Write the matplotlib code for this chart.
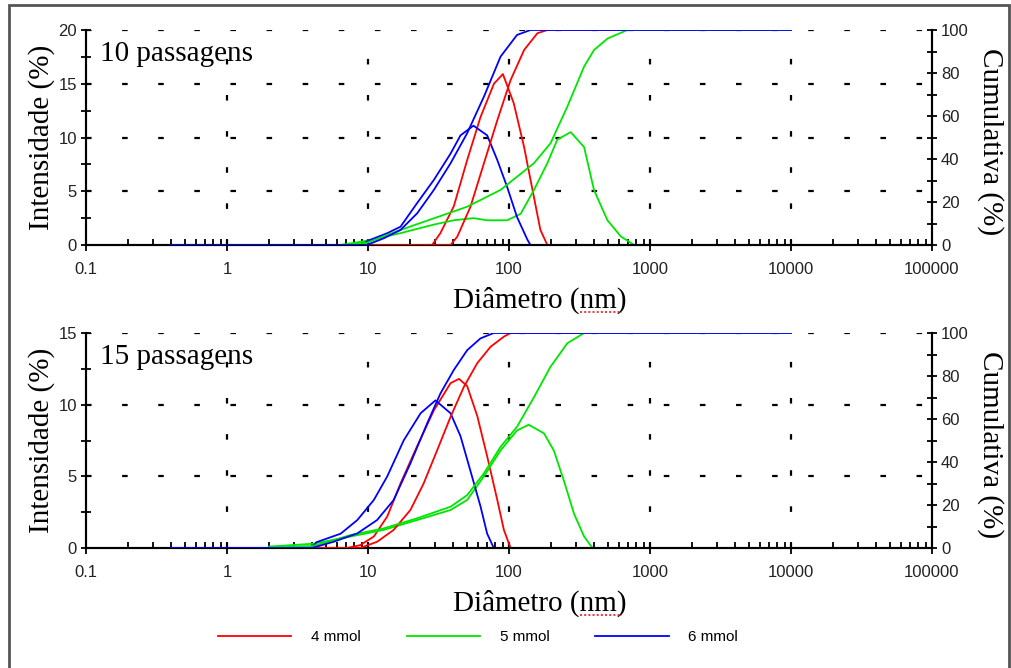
import matplotlib
matplotlib.use("Agg")
import matplotlib.pyplot as plt
from matplotlib.ticker import MultipleLocator, FixedLocator, NullFormatter
from matplotlib.lines import Line2D
from matplotlib.patches import Rectangle

plt.rcParams['lines.scale_dashes'] = False

# ---- 10 passagens ----
d10_vermelho_int = [10, 28.5, 32.6, 40.6, 50.5, 62.8, 78.2, 90.5, 108, 128, 150, 167, 187, 10000]
i10_vermelho = [0, 0, 1.1, 3.6, 7.9, 11.9, 15.0, 15.9, 13.2, 9.1, 4.5, 1.4, 0, 0]
d10_vermelho_cum = [10, 38.5, 43, 53.3, 66.4, 82.6, 102.6, 128, 159, 187, 10000]
c10_vermelho = [0, 0, 3.9, 17.8, 38, 58, 76.7, 90.7, 98.5, 100, 100]

d10_verde_int = [6.4, 9.8, 17, 29.3, 40.6, 56, 70, 97, 121, 150, 187, 220, 274, 341, 401, 499, 621, 772, 10000]
i10_verde = [0, 0.4, 1.1, 1.9, 2.3, 2.5, 2.3, 2.3, 2.9, 5.1, 7.6, 9.8, 10.5, 9.1, 5.1, 2.3, 0.8, 0, 0]
d10_verde_cum = [6.4, 9.8, 17, 29.3, 50.5, 87, 150, 197, 259, 341, 401, 499, 692, 10000]
c10_verde = [0, 1, 7, 12.4, 17.8, 25.6, 38, 47.3, 64.3, 83, 90.7, 96, 100, 100]

d10_azul_int = [0.4, 9, 10, 13.7, 17, 22.3, 29.3, 38.5, 45.3, 56, 70, 82.6, 97, 114, 135, 142, 10000]
i10_azul = [0, 0, 0.4, 1.1, 1.7, 3.9, 6.05, 8.5, 10.2, 11.1, 10.2, 7.9, 5.4, 2.6, 0.5, 0, 0]
d10_azul_cum = [0.4, 9.8, 12.9, 17, 22.3, 29.3, 38.5, 50.5, 66.4, 87.1, 114, 142, 10000]
c10_azul = [0, 0, 3.1, 7, 14.7, 25.6, 38, 52, 69, 87.6, 97.7, 100, 100]

# ---- 15 passagens ----
d15_vermelho_int = [4, 7.1, 8.8, 11, 13.7, 17, 22.3, 29.3, 38.5, 44.2, 50.5, 59.6, 70, 82.6, 92, 102.6, 10000]
i15_vermelho = [0, 0, 0.2, 0.8, 2.2, 4.5, 7.1, 9.6, 11.5, 11.8, 11.3, 9.2, 6.4, 3.35, 1.26, 0, 0]
d15_vermelho_cum = [4, 8.8, 11.6, 15.2, 20, 24.8, 31, 38.5, 47.9, 59.6, 74, 92, 102.6, 10000]
c15_vermelho = [0, 0, 2.9, 8.4, 17.7, 30, 45.6, 61, 75, 86, 93.6, 98.3, 100, 100]

d15_verde_int = [2, 4.1, 7.5, 12.9, 22.3, 38.5, 50.5, 66.4, 87, 114, 138, 177, 208, 245, 289, 341, 391, 10000]
i15_verde = [0.1, 0.3, 0.8, 1.26, 1.95, 2.65, 3.35, 5.0, 6.8, 8.2, 8.6, 8.0, 6.8, 4.7, 2.4, 0.8, 0, 0]
d15_verde_cum = [2, 4.1, 7.5, 12.9, 22.3, 38.5, 50.5, 66.4, 87, 114, 150, 197, 259, 341, 10000]
c15_verde = [0.5, 0.9, 6, 9.1, 13.8, 19.2, 24.6, 34.7, 47, 56.4, 70, 84.3, 95.2, 100, 100]

d15_azul_int = [0.4, 4, 4.3, 6.4, 8.4, 11, 13.7, 17.9, 23.6, 30.1, 38.5, 45.3, 53.2, 62.8, 70, 78, 10000]
i15_azul = [0, 0, 0.4, 1.0, 1.95, 3.35, 5.0, 7.5, 9.4, 10.3, 9.4, 7.8, 5.4, 2.9, 1.0, 0, 0]
d15_azul_cum = [0.4, 4, 5.7, 8.4, 11.6, 15.2, 20, 26.3, 32.7, 40.6, 50.5, 62.8, 78, 10000]
c15_azul = [0, 0, 2.9, 6.8, 13, 22.3, 39.4, 58, 72, 82.8, 92, 97.5, 100, 100]

series = ["4 mmol", "5 mmol", "6 mmol"]
cores = ["#ff0000", "#00e600", "#0000ff"]
x_ticks = [0.1, 1, 10, 100, 1000, 10000, 100000]
x_labels = ["0.1", "1", "10", "100", "1000", "10000", "100000"]

paineis = [
    ("10 passagens", 20,
     [(d10_vermelho_int, i10_vermelho), (d10_verde_int, i10_verde), (d10_azul_int, i10_azul)],
     [(d10_vermelho_cum, c10_vermelho), (d10_verde_cum, c10_verde), (d10_azul_cum, c10_azul)]),
    ("15 passagens", 15,
     [(d15_vermelho_int, i15_vermelho), (d15_verde_int, i15_verde), (d15_azul_int, i15_azul)],
     [(d15_vermelho_cum, c15_vermelho), (d15_verde_cum, c15_verde), (d15_azul_cum, c15_azul)]),
]

serif = "Liberation Serif"
sans = "Liberation Sans"
grid_style = dict(color="black", lw=1.6, linestyle=(0, (4, 22)), zorder=0)

fig = plt.figure(figsize=(10.12, 6.68), dpi=100)
W, H = 1012, 668

for k, (titulo, ymax, intens, cums) in enumerate(paineis):
    top_px = 30 if k == 0 else 333
    bot_px = 245 if k == 0 else 548
    ax = fig.add_axes([86 / W, 1 - bot_px / H, 846 / W, (bot_px - top_px) / H])
    ax2 = ax.twinx()

    ax.set_xscale("log")
    ax.set_xlim(0.1, 100000)
    ax.set_ylim(0, ymax)
    ax2.set_ylim(0, 100)

    # grade tracejada
    for y in range(5, ymax + 1, 5):
        ax.axhline(y, **grid_style)
    for x in [1, 10, 100, 1000, 10000]:
        ax.axvline(x, **grid_style)

    for (d, v), cor in zip(intens, cores):
        ax.plot(d, v, color=cor, lw=1.3, zorder=3)
    for (d, v), cor in zip(cums, cores):
        ax2.plot(d, v, color=cor, lw=1.3, zorder=3)

    ax.set_xticks(x_ticks, x_labels)
    ax.xaxis.set_minor_locator(FixedLocator([m * 10.0 ** e for e in range(-1, 5) for m in range(2, 10)]))
    ax.xaxis.set_minor_formatter(NullFormatter())
    ax.yaxis.set_major_locator(MultipleLocator(5))
    ax.yaxis.set_minor_locator(MultipleLocator(2.5))
    ax2.yaxis.set_major_locator(MultipleLocator(20))
    ax2.yaxis.set_minor_locator(MultipleLocator(10))

    for a in (ax, ax2):
        a.spines["top"].set_visible(False)
        for s in a.spines.values():
            s.set_linewidth(1.5)
        a.tick_params(which="both", width=1.3, labelsize=12, colors="black")
        for lab in a.get_xticklabels() + a.get_yticklabels():
            lab.set_fontfamily(sans)
            lab.set_color("#222222")
    ax.tick_params(axis="x", which="major", direction="inout", length=8, pad=8)
    ax.tick_params(axis="x", which="minor", direction="in", length=4)
    ax.tick_params(axis="y", which="both", direction="inout", length=7, pad=3)
    ax2.tick_params(axis="y", which="both", direction="inout", length=7, pad=3)

    ax.set_ylabel("Intensidade (%)", fontfamily=serif, fontsize=21, va="center")
    ax.yaxis.set_label_coords((42 - 86) / 846, 0.5)
    ax2.set_ylabel("Cumulativa (%)", fontfamily=serif, fontsize=21, rotation=270, va="center")
    ax2.yaxis.set_label_coords((990 - 86) / 846, 0.48)
    ax.set_xlabel("Diâmetro (nm)", fontfamily=serif, fontsize=21, va="center")
    ax.xaxis.set_label_coords((540 - 86) / 846, -(300 - 245) / 215)

    ax.text(100 / W, 1 - (top_px + 24) / H, titulo, transform=fig.transFigure,
            fontfamily=serif, fontsize=21, va="center", ha="left")

    # sublinhado ondulado do corretor sob "nm"
    yline = 1 - (bot_px + 67) / H
    fig.add_artist(Line2D([580 / W, 622 / W], [yline, yline], color="#e02020",
                          lw=1.2, linestyle=(0, (1.5, 1.5))))

handles = [Line2D([], [], color=c, lw=1.3) for c in cores]
fig.legend(handles, series, loc="center", bbox_to_anchor=(478 / W, 1 - 637 / H), ncol=3,
           frameon=False, handlelength=4.8, handletextpad=1.3, columnspacing=3.0,
           prop={"family": sans, "size": 11})

fig.add_artist(Rectangle((9 / W, -0.01), 1000 / W, 1.01 - 5 / H, transform=fig.transFigure,
                         fill=False, edgecolor="#555555", lw=2))

fig.savefig("out.png", dpi=100)
